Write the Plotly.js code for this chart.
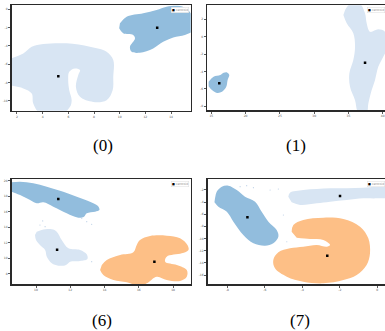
<!DOCTYPE html>
<html>
<head>
<meta charset="utf-8">
<script src="https://cdn.plot.ly/plotly-3.0.1.min.js"></script>
<style>html,body{margin:0;padding:0;overflow:hidden;background:#fff}#chart{width:387px;height:331px}</style>
</head>
<body>
<div id="chart"></div>
<script>
// ---------- Panel (0) ----------
const p0LightX = [1.30,2.49,3.15,4.05,5.87,7.68,8.98,9.50,9.50,9.45,8.98,7.94,6.91,6.59,6.77,6.91,6.52,6.07,5.99,6.07,6.26,6.13,5.61,3.79,3.27,3.15,2.49,1.30];
const p0LightY = [-5.46,-4.81,-4.08,-3.79,-3.71,-4.08,-4.63,-5.54,-7.36,-8.82,-9.91,-10.10,-9.55,-8.46,-7.18,-6.63,-6.45,-6.82,-7.72,-8.82,-9.91,-10.64,-11.33,-11.33,-10.27,-9.18,-8.63,-8.27];
const p0DarkX = [10.02,10.54,11.83,12.87,13.65,14.69,15.33,15.78,15.78,15.08,14.17,13.39,12.61,11.57,10.93,10.80,11.19,11.05,10.27,9.96];
const p0DarkY = [-1.53,-0.81,-0.43,-0.07,0.29,0.36,-0.07,-1.17,-2.26,-2.81,-3.06,-3.54,-4.26,-4.74,-4.63,-4.08,-3.17,-2.81,-2.62,-2.07];
const p0CentX = [5.22,12.92];
const p0CentY = [-7.29,-2.01];
const p0XTicks = [2,4,6,8,10,12,14];
const p0YTicks = [0,-2,-4,-6,-8,-10];

// ---------- Panel (1) ----------
const p1DarkX = [14.61,15.33,16.31,16.79,17.29,17.62,17.37,17.18,16.56,15.83,15.10,14.61];
const p1DarkY = [-5.20,-4.62,-4.42,-4.16,-4.11,-4.42,-5.00,-5.77,-6.35,-6.47,-6.15,-5.69];
const p1LightX = [34.51,35.23,36.69,37.42,37.66,38.14,39.35,40.33,40.91,40.08,39.35,38.87,38.39,37.90,37.66,36.44,35.96,35.23,35.13,35.71,35.96,35.71,34.75,34.26];
const p1LightY = [3.07,3.76,3.76,2.69,1.54,0.57,0.85,0.57,-0.77,-2.31,-3.47,-5.00,-6.15,-7.69,-8.69,-8.69,-7.31,-5.77,-4.23,-2.69,-1.16,0.39,1.54,2.50];
const p1CentX = [16.16,37.42];
const p1CentY = [-5.35,-3.01];
const p1XTicks = [15,20,25,30,35,40];
const p1YTicks = [2,0,-2,-4,-6,-8];

// ---------- Panel (6) ----------
const p6DarkX = [8.54,9.07,9.84,10.63,11.59,12.38,13.15,13.60,13.70,13.45,12.96,12.80,12.47,11.79,11.01,10.43,10.04,9.65,9.07,8.58,8.36];
const p6DarkY = [19.79,19.87,19.67,19.23,18.59,17.94,17.30,16.78,16.23,16.01,15.81,15.37,15.24,15.81,16.66,17.22,17.09,17.52,18.16,18.59,18.80];
const p6LightX = [10.04,10.33,10.92,11.21,11.50,11.89,12.57,12.96,13.00,12.57,11.99,11.75,11.30,10.92,10.63,10.53,10.23,10.00,9.94];
const p6LightY = [13.44,13.66,13.75,13.44,12.37,11.31,11.09,10.53,9.93,9.67,9.58,9.16,9.07,9.38,10.23,11.09,11.73,12.37,13.02];
const p6OrangeX = [13.84,14.13,14.91,15.68,15.88,16.07,16.66,17.63,18.41,18.84,18.90,18.51,17.63,17.54,18.22,18.80,18.80,18.41,17.63,17.05,16.47,16.07,15.30,14.52,13.93,13.74];
const p6OrangeY = [9.16,9.80,10.44,10.79,11.73,12.37,12.89,12.93,12.59,11.73,11.09,10.66,10.23,9.58,9.16,8.51,7.65,7.10,7.23,7.65,6.80,6.46,6.93,7.23,7.87,8.51];
const p6StrayX = [10.23,10.39,10.53,12.67,12.96,13.25,13.25];
const p6StrayY = [14.30,14.82,14.08,15.16,14.73,14.39,9.58];
const p6CentX = [11.30,11.23,16.91];
const p6CentY = [17.65,11.13,9.58];
const p6XTicks = [10,12,14,16,18];
const p6YTicks = [8,10,12,14,16,18,20];

// ---------- Panel (7) ----------
const p7DarkX = [-8.66,-8.57,-8.30,-7.95,-7.50,-7.06,-6.52,-6.17,-5.81,-5.37,-5.28,-5.55,-5.99,-6.61,-7.15,-7.68,-8.03,-8.48,-8.69];
const p7DarkY = [-3.37,-2.28,-1.46,-1.29,-2.00,-3.10,-3.93,-5.58,-7.22,-8.59,-9.69,-10.78,-11.18,-10.78,-9.41,-7.22,-5.58,-4.75,-4.03];
const p7LightX = [-4.75,-4.66,-3.95,-3.23,-2.52,-1.63,-0.75,-0.03,0.68,0.68,-0.03,-0.75,-1.63,-2.52,-3.23,-4.12,-4.57];
const p7LightY = [-3.10,-2.44,-2.00,-1.84,-1.72,-1.72,-1.62,-1.46,-1.62,-3.10,-3.37,-3.37,-3.65,-3.93,-4.19,-4.47,-4.03];
const p7OrangeX = [-4.57,-4.48,-3.95,-2.88,-1.81,-0.92,-0.48,-0.39,-0.57,-1.10,-1.81,-2.88,-3.95,-4.83,-5.46,-5.55,-5.28,-4.66,-3.95,-3.23,-2.70,-2.52,-2.88,-3.59,-4.30];
const p7OrangeY = [-8.87,-7.77,-6.94,-6.56,-6.78,-8.05,-9.96,-12.43,-14.36,-16.00,-16.83,-17.37,-17.11,-16.28,-14.90,-13.53,-12.26,-11.60,-11.34,-11.06,-11.34,-11.06,-10.24,-10.07,-9.86];
const p7StrayX = [-7.32,-6.97,-6.61,-5.72,-5.28,-4.83,-5.01];
const p7StrayY = [-1.46,-1.29,-1.62,-2.00,-1.84,-10.52,-6.12];
const p7CentX = [-6.93,-1.99,-2.67];
const p7CentY = [-6.50,-2.99,-12.82];
const p7XTicks = [-8,-6,-4,-2,0];
const p7YTicks = [-2,-4,-6,-8,-10,-12,-14,-16];

const panelLabels = ['(0)','(1)','(6)','(7)'];
const legendText = 'centroid';

// ---------- styles ----------
const LIGHT = 'rgb(216,229,243)';
const DARK = 'rgb(146,189,221)';
const ORANGE = 'rgb(253,191,134)';
const STRAY = 'rgba(90,140,195,0.4)';

function blob(ax, xs, ys, color) {
  return {type:'scatter', x:xs, y:ys, xaxis:'x'+ax, yaxis:'y'+ax, mode:'lines',
    fill:'toself', fillcolor:color, line:{width:0, shape:'spline', smoothing:1, color:color},
    hoverinfo:'skip', showlegend:false};
}
function pts(ax, xs, ys, color, size, symbol) {
  return {type:'scatter', x:xs, y:ys, xaxis:'x'+ax, yaxis:'y'+ax, mode:'markers',
    marker:{color:color, size:size, symbol:symbol, line:{width:0}}, hoverinfo:'skip', showlegend:false};
}

const data = [
  blob('', p0LightX, p0LightY, LIGHT),
  blob('', p0DarkX, p0DarkY, DARK),
  pts('', p0CentX, p0CentY, '#000', 2.5, 'square'),
  blob('2', p1DarkX, p1DarkY, DARK),
  blob('2', p1LightX, p1LightY, LIGHT),
  pts('2', p1CentX, p1CentY, '#000', 2.5, 'square'),
  blob('3', p6DarkX, p6DarkY, DARK),
  blob('3', p6LightX, p6LightY, LIGHT),
  blob('3', p6OrangeX, p6OrangeY, ORANGE),
  pts('3', p6StrayX, p6StrayY, STRAY, 1.2, 'circle'),
  pts('3', p6CentX, p6CentY, '#000', 2.5, 'square'),
  blob('4', p7DarkX, p7DarkY, DARK),
  blob('4', p7LightX, p7LightY, LIGHT),
  blob('4', p7OrangeX, p7OrangeY, ORANGE),
  pts('4', p7StrayX, p7StrayY, STRAY, 1.2, 'circle'),
  pts('4', p7CentX, p7CentY, '#000', 2.5, 'square')
];

const W = 387, H = 331;
const tickFont = {family:'DejaVu Sans', size:3, color:'#555'};
function axis(range, ticks, domPx, anchor, isY) {
  const dom = isY ? [1 - domPx[1]/H, 1 - domPx[0]/H] : [domPx[0]/W, domPx[1]/W];
  return {range:range, tickvals:ticks, ticktext:ticks.map(String), domain:dom, anchor:anchor,
    showgrid:false, zeroline:false, showline:true, mirror:true, linecolor:'#2a2a2a', linewidth:1.5,
    ticks:'outside', ticklen:2, tickwidth:0.8, tickcolor:'#333', tickfont:tickFont, fixedrange:true};
}

const layout = {
  width:W, height:H, margin:{l:0,r:0,t:0,b:0}, paper_bgcolor:'#fff', plot_bgcolor:'#fff',
  showlegend:false,
  xaxis:  axis([1.59,15.53], p0XTicks, [11.7,190.7], 'y', false),
  yaxis:  axis([-11.06,0.44], p0YTicks, [5.3,110.7], 'x', true),
  xaxis2: axis([14.40,40.55], p1XTicks, [207.2,386.5], 'y2', false),
  yaxis2: axis([-8.46,3.61], p1YTicks, [5.3,110.2], 'x2', true),
  xaxis3: axis([8.58,19.03], p6XTicks, [11.7,190.7], 'y3', false),
  yaxis3: axis([6.71,20.18], p6YTicks, [179.3,284], 'x3', true),
  xaxis4: axis([-9.05,0.49], p7XTicks, [207.7,386.5], 'y4', false),
  yaxis4: axis([-17.48,-0.24], p7YTicks, [179.3,284], 'x4', true),
  annotations: []
};

const labelPos = [[103,145.5],[296,145.5],[102,320.5],[300,320.5]];
panelLabels.forEach((t,i) => {
  layout.annotations.push({text:t, xref:'paper', yref:'paper', x:labelPos[i][0]/W, y:1-labelPos[i][1]/H,
    xanchor:'center', yanchor:'middle', showarrow:false,
    font:{family:'Liberation Serif', size:17, color:'#000'}});
});
['', '2', '3', '4'].forEach(ax => {
  layout.annotations.push({text:'<span style="color:#000">■</span> ' + legendText,
    xref:'x'+ax+' domain', yref:'y'+ax+' domain', x:0.99, y:0.985, xanchor:'right', yanchor:'top',
    showarrow:false, bgcolor:'#fff', bordercolor:'#ddd', borderwidth:0.5, borderpad:0.5,
    font:{family:'DejaVu Sans', size:3, color:'#888'}});
});

Plotly.newPlot('chart', data, layout, {staticPlot:true, displayModeBar:false});
</script>
</body>
</html>
